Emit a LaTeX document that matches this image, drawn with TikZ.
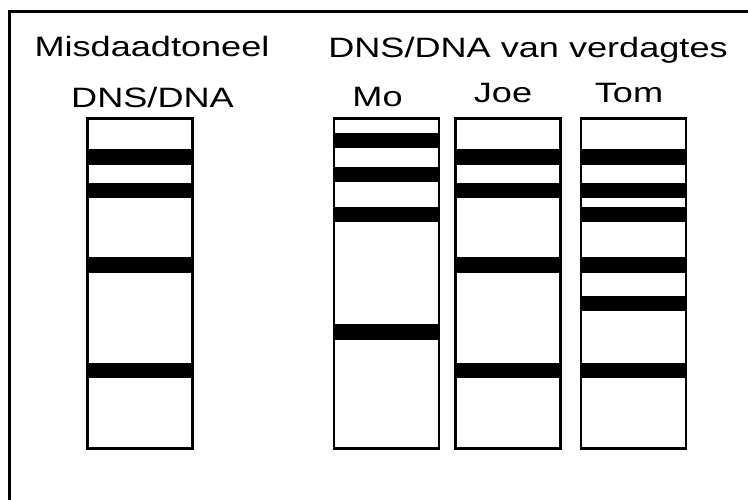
\documentclass[tikz,border=0pt]{standalone}
\usepackage{fontspec}
\setmainfont{Liberation Sans}
\begin{document}
\begin{tikzpicture}[x=1pt,y=-1pt,
  lbl/.style={anchor=base,inner sep=0pt,font=\fontsize{28}{31}\selectfont},
  lane/.style={draw,line width=2.8pt,minimum width=105pt,minimum height=330pt,inner sep=0pt,fill=white},
  band/.style={fill=black}]
\useasboundingbox (0,0) rectangle (748,500);
\fill[white] (0,0) rectangle (748,500);
\draw[line width=3.5pt] (752,11.5) -- (9.5,11.5) -- (9.5,504);
% labels
\node[lbl] (t1) at (152,57) {\scalebox{1.29}[1]{Misdaadtoneel}};
\node[lbl] (t2) at (528,58) {\scalebox{1.29}[1]{DNS/DNA van verdagtes}};
\node[lbl] (t3) at (152.5,108) {\scalebox{1.29}[1]{DNS/DNA}};
\node[lbl] (t4) at (377.5,107) {\scalebox{1.29}[1]{Mo}};
\node[lbl] (t5) at (503,103) {\scalebox{1.29}[1]{Joe}};
\node[lbl] (t6) at (629,103) {\scalebox{1.29}[1]{Tom}};
% lanes
\node[lane] (cs) at (140,283.5) {};
\node[lane] (mo) at (386.5,283.5) {};
\node[lane] (joe) at (508,283.5) {};
\node[lane] (tom) at (633.5,283.5) {};
% bands
\foreach \a/\b in {149/165,183/198,257/273,363/378}{
  \fill[band] (cs.west |- 0,\a) rectangle (cs.east |- 0,\b);
  \fill[band] (joe.west |- 0,\a) rectangle (joe.east |- 0,\b);
  \fill[band] (tom.west |- 0,\a) rectangle (tom.east |- 0,\b);
}
\foreach \a/\b in {207/222,296/311}{
  \fill[band] (tom.west |- 0,\a) rectangle (tom.east |- 0,\b);
}
\foreach \a/\b in {133/148,167/182,207/222,324/340}{
  \fill[band] (mo.west |- 0,\a) rectangle (mo.east |- 0,\b);
}
\end{tikzpicture}
\end{document}
